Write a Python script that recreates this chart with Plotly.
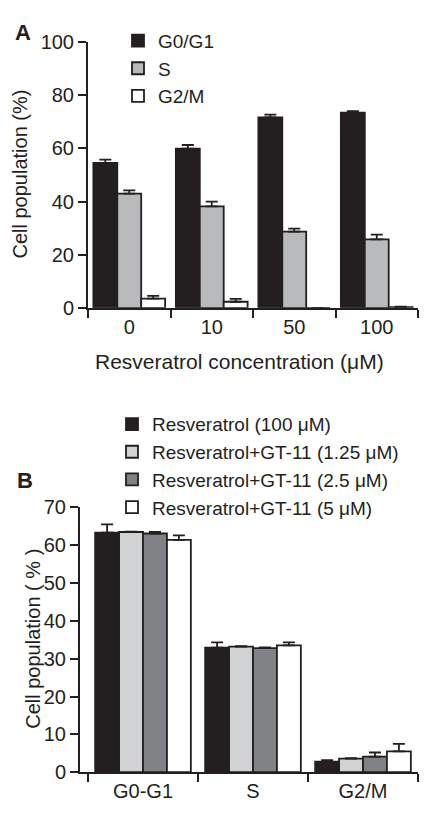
import plotly.graph_objects as go

W, H = 431, 825

# ---------------- data: panel A ----------------
conc = ["0", "10", "50", "100"]
a_names = ["G0/G1", "S", "G2/M"]
a_g0g1 = [54.6, 59.9, 71.7, 73.5]
a_g0g1_err = [1.2, 1.4, 1.0, 0.5]
a_s = [43.0, 38.2, 28.7, 25.8]
a_s_err = [1.2, 1.8, 1.1, 1.8]
a_g2m = [3.5, 2.3, 0.0, 0.3]
a_g2m_err = [1.0, 1.1, 0.0, 0.2]
a_ticks = [0, 20, 40, 60, 80, 100]

# ---------------- data: panel B ----------------
phases = ["G0-G1", "S", "G2/M"]
b_names = ["Resveratrol (100 μM)", "Resveratrol+GT-11 (1.25 μM)",
           "Resveratrol+GT-11 (2.5 μM)", "Resveratrol+GT-11 (5 μM)"]
b_res = [63.3, 32.9, 2.75]
b_res_err = [2.2, 1.4, 0.4]
b_gt125 = [63.5, 33.2, 3.6]
b_gt125_err = [0.1, 0.1, 0.1]
b_gt25 = [63.1, 32.8, 4.1]
b_gt25_err = [0.4, 0.2, 1.1]
b_gt5 = [61.4, 33.5, 5.5]
b_gt5_err = [1.2, 0.8, 2.0]
b_ticks = [0, 10, 20, 30, 40, 50, 60, 70]

FONT = "Liberation Sans, Arial, sans-serif"
INK = "#231f20"

fig = go.Figure()


def add_bar(x, y, err, name, color, xa, ya, legend):
    fig.add_trace(go.Bar(
        x=x, y=y, name=name, xaxis=xa, yaxis=ya, legend=legend,
        marker=dict(color=color, line=dict(color=INK, width=1.8)),
        error_y=dict(type="data", symmetric=False, array=err,
                     arrayminus=[0] * len(err), color=INK,
                     thickness=1.8, width=6),
    ))


a_colors = [INK, "#b9babc", "#ffffff"]
for vals, errs, nm, col in zip([a_g0g1, a_s, a_g2m],
                               [a_g0g1_err, a_s_err, a_g2m_err],
                               a_names, a_colors):
    add_bar(conc, vals, errs, nm, col, "x", "y", "legend")

b_colors = [INK, "#d1d2d4", "#808285", "#ffffff"]
for vals, errs, nm, col in zip([b_res, b_gt125, b_gt25, b_gt5],
                               [b_res_err, b_gt125_err, b_gt25_err, b_gt5_err],
                               b_names, b_colors):
    add_bar(phases, vals, errs, nm, col, "x2", "y2", "legend2")

axis_common = dict(
    showline=True, linewidth=2, linecolor=INK, ticks="outside",
    ticklen=8, tickwidth=2, tickcolor=INK, showgrid=False, zeroline=False,
    tickfont=dict(family=FONT, size=20, color=INK),
)

fig.update_layout(
    width=W, height=H,
    margin=dict(l=0, r=0, t=0, b=0),
    paper_bgcolor="white", plot_bgcolor="white",
    barmode="group", bargap=0.13, bargroupgap=0,
    font=dict(family=FONT, size=18, color=INK),
    xaxis=dict(domain=[88 / W, 418 / W], anchor="y", type="category",
               range=[-0.5, 3.5], tickson="boundaries", **axis_common),
    yaxis=dict(domain=[1 - 305 / H, 1 - 32 / H], anchor="x",
               range=[0, 100], tickvals=a_ticks, **axis_common),
    xaxis2=dict(domain=[80 / W, 418 / W], anchor="y2", type="category",
                range=[-0.5 - 8 / 110, 2.5], tickson="boundaries", **axis_common),
    yaxis2=dict(domain=[1 - 782 / H, 1 - 510 / H], anchor="x2",
                range=[0, 70], tickvals=b_ticks, **axis_common),
    legend=dict(x=118 / W, y=1 - 11 / H, xanchor="left", yanchor="top",
                font=dict(family=FONT, size=19, color=INK),
                bgcolor="rgba(0,0,0,0)", itemwidth=30, tracegroupgap=0),
    legend2=dict(x=112 / W, y=1 - 405 / H, xanchor="left", yanchor="top",
                 font=dict(family=FONT, size=19, color=INK),
                 bgcolor="rgba(0,0,0,0)", itemwidth=30, tracegroupgap=0),
    showlegend=True,
)

ann = [
    dict(text="<b>A</b>", x=13 / W, y=1 - 22 / H, xanchor="left", yanchor="middle",
         font=dict(size=22)),
    dict(text="<b>B</b>", x=15 / W, y=1 - 482 / H, xanchor="left", yanchor="middle",
         font=dict(size=22)),
    dict(text="Cell population (%)", x=20 / W, y=1 - 168 / H, textangle=-90,
         xanchor="center", yanchor="middle", font=dict(size=20)),
    dict(text="Resveratrol concentration (μM)", x=239 / W, y=1 - 360 / H,
         xanchor="center", yanchor="middle", font=dict(size=21)),
    dict(text="Cell population ( % )", x=33 / W, y=1 - 645 / H, textangle=-90,
         xanchor="center", yanchor="middle", font=dict(size=20)),
]
for a in ann:
    a.update(xref="paper", yref="paper", showarrow=False)
    a["font"].update(family=FONT, color=INK)
fig.update_layout(annotations=ann)

fig.write_html("out.html", config={"displayModeBar": False},
               post_script="document.body.style.margin='0';")
